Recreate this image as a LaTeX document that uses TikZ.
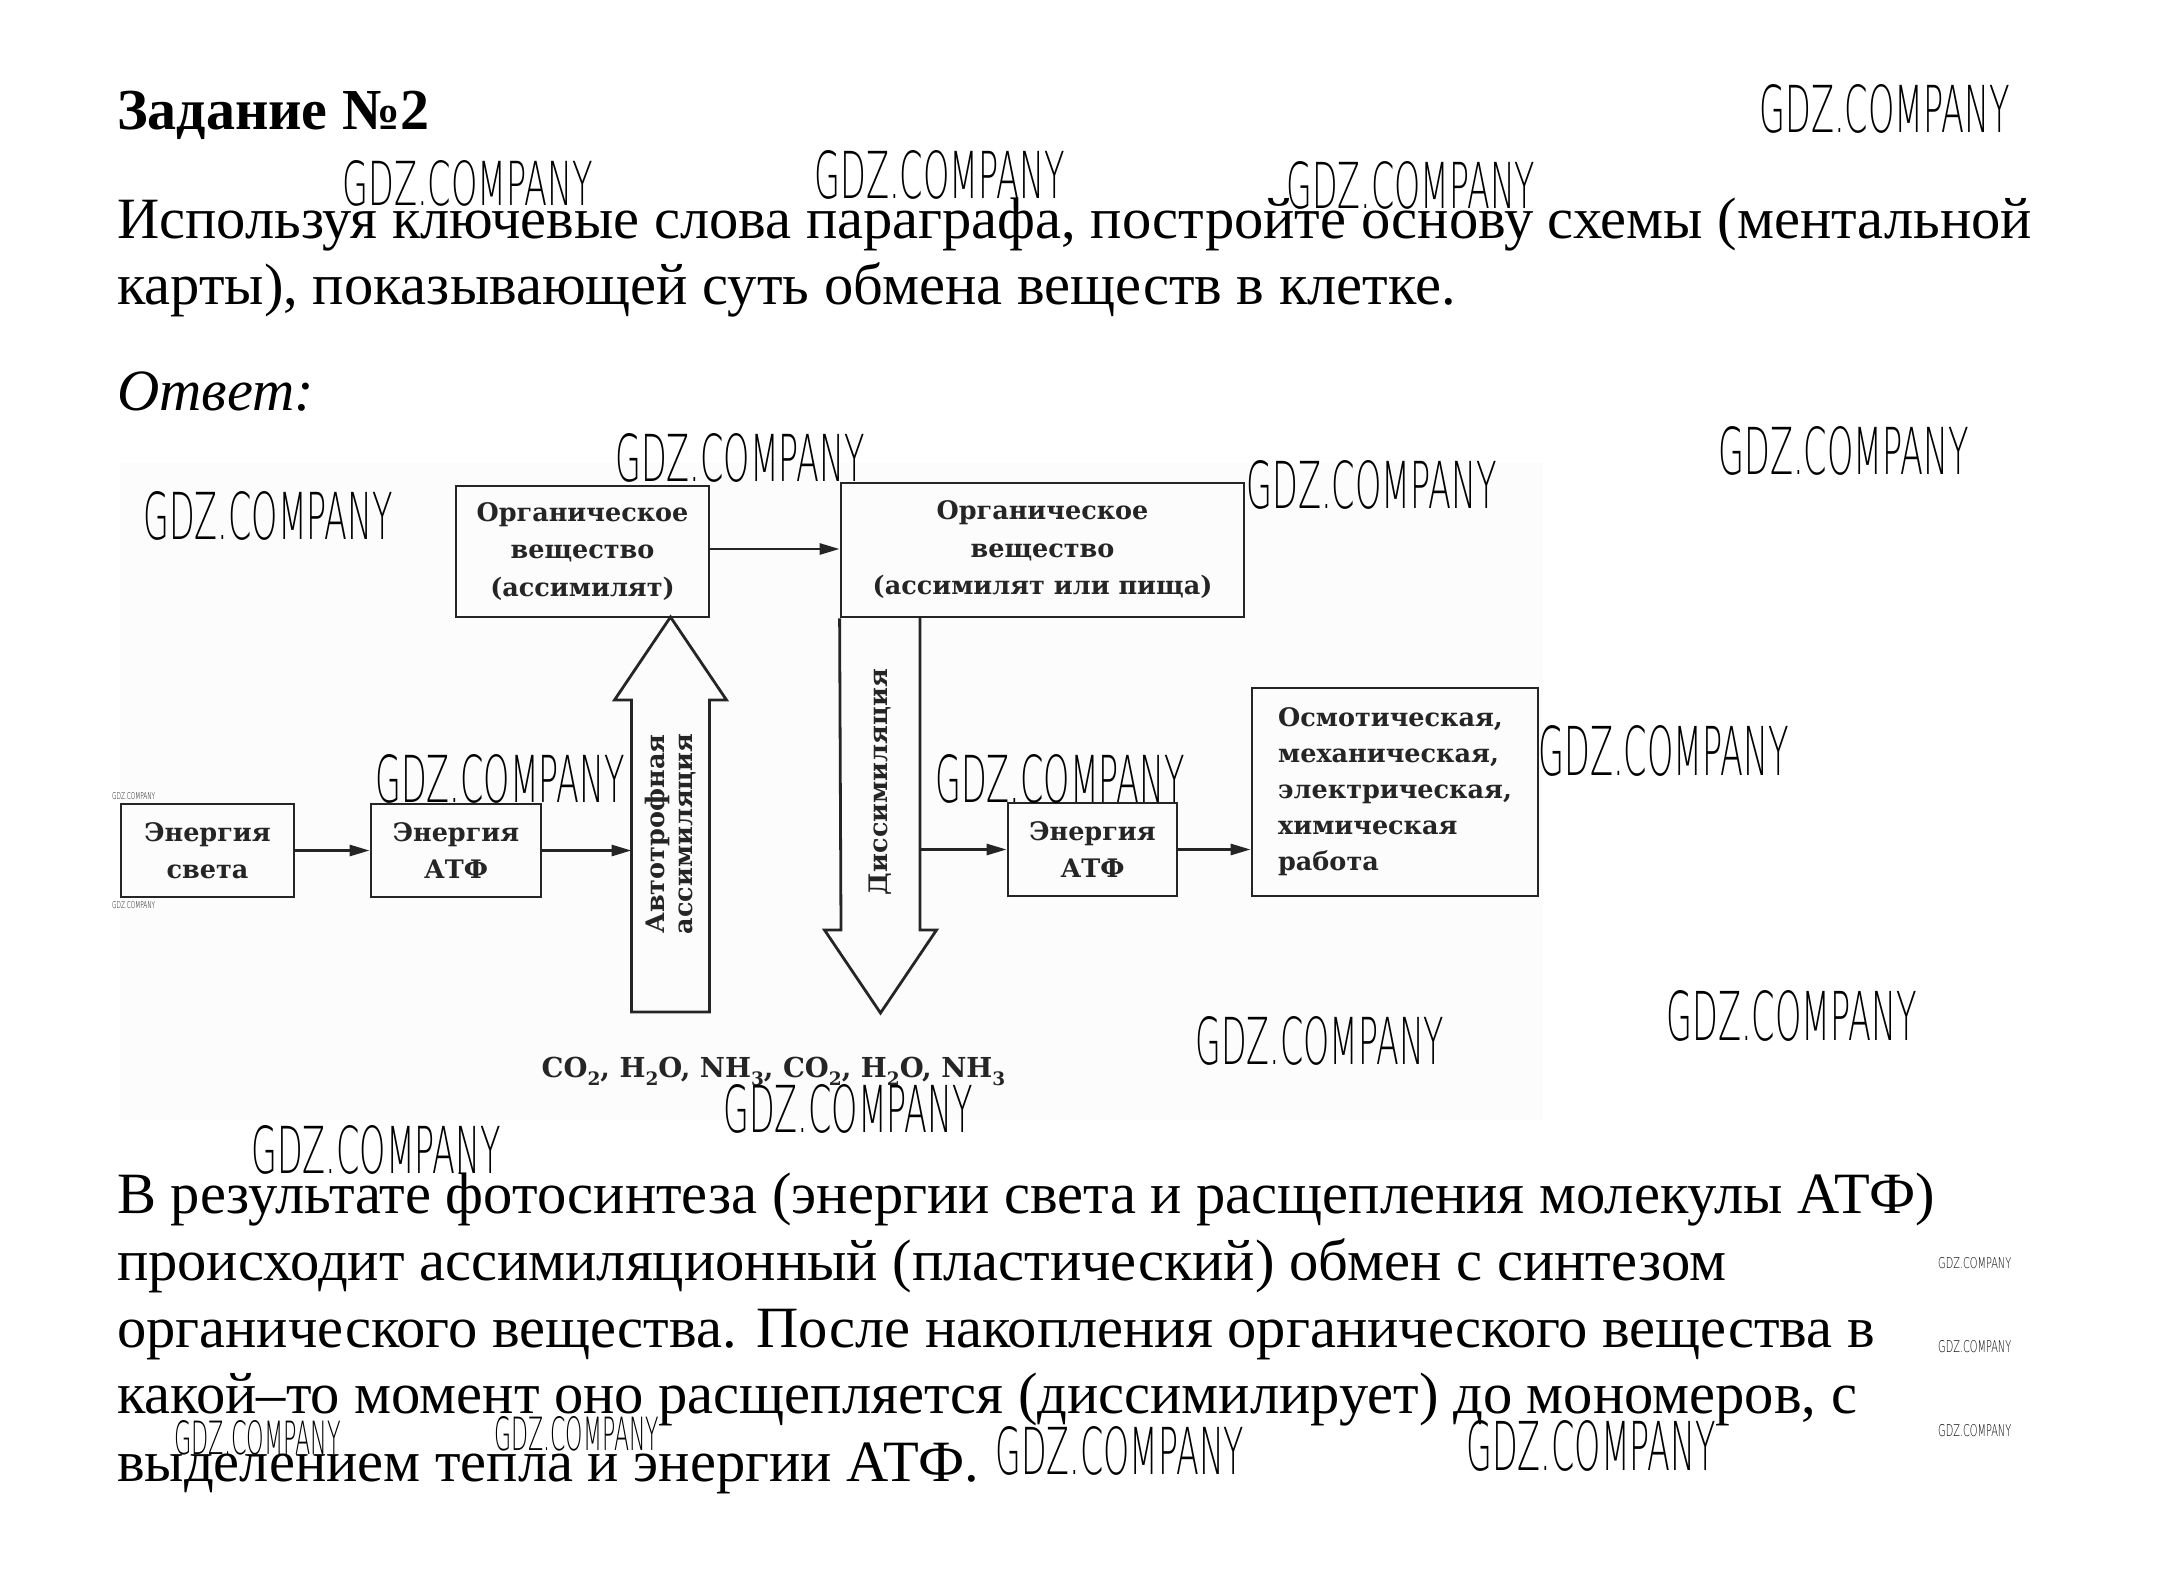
\documentclass[tikz,border=0pt]{standalone}
\usepackage{fontspec}
\usepackage{graphicx}
\usetikzlibrary{arrows.meta}
\setmainfont{Liberation Serif}
\newfontfamily\boxfont{DejaVu Serif}
\IfFontExistsTF{DejaVu Sans ExtraLight}{\newfontfamily\wmfont{DejaVu Sans ExtraLight}}{\newfontfamily\wmfont{Liberation Sans}}
\definecolor{bggray}{HTML}{FCFCFC}
\definecolor{ink}{HTML}{252525}
\newcommand{\wmark}[2]{\resizebox{#1pt}{#2pt}{\wmfont GDZ.COMPANY}}
\newcommand{\chsub}[1]{\raisebox{-0.3em}{\fontsize{18.5}{18.5}\selectfont #1}}
\begin{document}
\begin{tikzpicture}[x=1pt,y=-1pt,
  body/.style={anchor=base west,inner sep=0,font=\fontsize{58.5}{66}\selectfont},
  wm/.style={anchor=south west,inner sep=0},
  box/.style={draw=ink,line width=2.8pt,inner sep=0,align=center,
    font=\boxfont\bfseries\fontsize{25.5}{37.5}\selectfont},
  lbl/.style={inner sep=0,align=center,text=ink,font=\boxfont\bfseries\fontsize{25.5}{28}\selectfont},
  bigarrow/.style={draw=ink,line width=2.8pt,line join=miter},
  conn/.style={draw=ink,line width=2.8pt,-{Triangle[length=20pt,width=11pt]}}]
\useasboundingbox (0,0) rectangle (2163,1592);
\fill[white] (0,0) rectangle (2163,1592);
\fill[bggray] (120,463) rectangle (1543,1120);

% header text
\node[body,font=\bfseries\fontsize{58}{66}\selectfont] (title) at (117,130) {Задание №2};
\node[body] (q1) at (117,238) {Используя ключевые слова параграфа, постройте основу схемы (ментальной};
\node[body] (q2) at (117,304) {карты), показывающей суть обмена веществ в клетке.};
\node[body,font=\itshape\fontsize{58.5}{66}\selectfont] (ans) at (117,410) {Ответ:};

% diagram boxes
\node[box,minimum width=173pt,minimum height=93pt,text=ink] (light) at (207.5,850.5) {Энергия\\света};
\node[box,minimum width=170pt,minimum height=93pt,text=ink] (atp1) at (456,850.5) {Энергия\\АТФ};
\node[box,minimum width=253pt,minimum height=131pt,text=ink] (org1) at (582.5,551.5) {Органическое\\вещество\\(ассимилят)};
\node[box,minimum width=403pt,minimum height=134pt,text=ink] (org2) at (1042.5,550) {Органическое\\вещество\\(ассимилят или пища)};
\node[box,minimum width=169pt,minimum height=93pt,text=ink] (atp2) at (1092.5,849.5) {Энергия\\АТФ};
\node[box,minimum width=286pt,minimum height=208pt,align=left,text=ink,
  font=\boxfont\bfseries\fontsize{25.5}{36}\selectfont] (work) at (1395,792)
  {Осмотическая,\\механическая,\\электрическая,\\химическая\\работа};

% big up arrow (autotrophic assimilation)
\coordinate (uptip) at (670.5,617);
\draw[bigarrow] (631.5,1012) -- (631.5,700) -- (614.5,700) -- (uptip) -- (726.5,700) -- (709.5,700) -- (709.5,1012) -- cycle;
\node[lbl,rotate=90] (autotxt) at (671,834) {Автотрофная\\ассимиляция};

% big down arrow (dissimilation)
\coordinate (dntip) at (880.5,1013);
\draw[bigarrow] (org2.south west) -- (841,930) -- (824.5,930) -- (dntip) -- (936.5,930) -- (920,930) -- (920,617);
\node[lbl,rotate=90] (distxt) at (880.5,782) {Диссимиляция};

% connectors
\coordinate (upL) at (631.5,850.5);
\coordinate (dnR) at (920,849.5);
\draw[conn] (light.east) -- (atp1.west);
\draw[conn] (atp1.east) -- (upL);
\draw[conn] (org1.east |- 0,549) -- (org2.west |- 0,549);
\draw[conn] (dnR) -- (atp2.west);
\draw[conn] (atp2.east) -- (work.west |- atp2.east);

% chemical products
\node[lbl,anchor=base,font=\boxfont\bfseries\fontsize{27.5}{30}\selectfont] (chem) at (773.5,1077)
  {CO\chsub{2}, H\chsub{2}O, NH\chsub{3}, CO\chsub{2}, H\chsub{2}O, NH\chsub{3}};

% answer paragraph
\node[body] (p1) at (117,1213) {В результате фотосинтеза (энергии света и расщепления молекулы АТФ)};
\node[body] (p2) at (117,1280) {происходит ассимиляционный (пластический) обмен с синтезом};
\node[body] (p3) at (117,1347) {органического вещества. После накопления органического вещества в};
\node[body] (p4) at (117,1413) {какой–то момент оно расщепляется (диссимилирует) до мономеров, с};
\node[body] (p5) at (117,1481) {выделением тепла и энергии АТФ.};

% watermarks
\node[wm] (w1) at (1759,134) {\wmark{251}{48}};
\node[wm] (w2) at (342,207) {\wmark{251}{45}};
\node[wm] (w3) at (814,200) {\wmark{251}{48}};
\node[wm] (w4) at (1286,210) {\wmark{249}{47}};
\node[wm] (w5) at (615,483) {\wmark{250}{48}};
\node[wm] (w6) at (1246,510) {\wmark{251}{48}};
\node[wm] (w7) at (1718,476) {\wmark{251}{48}};
\node[wm] (w8) at (143,541) {\wmark{250}{48}};
\node[wm] (w9) at (375,804) {\wmark{250}{48}};
\node[wm] (w10) at (935,804) {\wmark{250}{48}};
\node[wm] (w11) at (1538,777) {\wmark{251}{50}};
\node[wm] (w12) at (1195,1066) {\wmark{249}{48}};
\node[wm] (w13) at (1666,1042) {\wmark{251}{50}};
\node[wm] (w14) at (723,1134) {\wmark{250}{48}};
\node[wm] (w15) at (251,1175) {\wmark{250}{48}};
\node[wm] (w16) at (995,1476) {\wmark{249}{48}};
\node[wm] (w17) at (1466,1472) {\wmark{250}{50}};
\node[wm] (w18) at (174,1455) {\wmark{167}{34}};
\node[wm] (w19) at (494,1451) {\wmark{165}{34}};
\node[wm] (w20) at (1938,1269) {\wmark{73}{11}};
\node[wm] (w21) at (1938,1353) {\wmark{73}{12}};
\node[wm] (w22) at (1938,1437) {\wmark{73}{12}};
\node[wm] (w23) at (112,800) {\wmark{43}{7}};
\node[wm] (w24) at (112,909) {\wmark{43}{7}};
\end{tikzpicture}
\end{document}
